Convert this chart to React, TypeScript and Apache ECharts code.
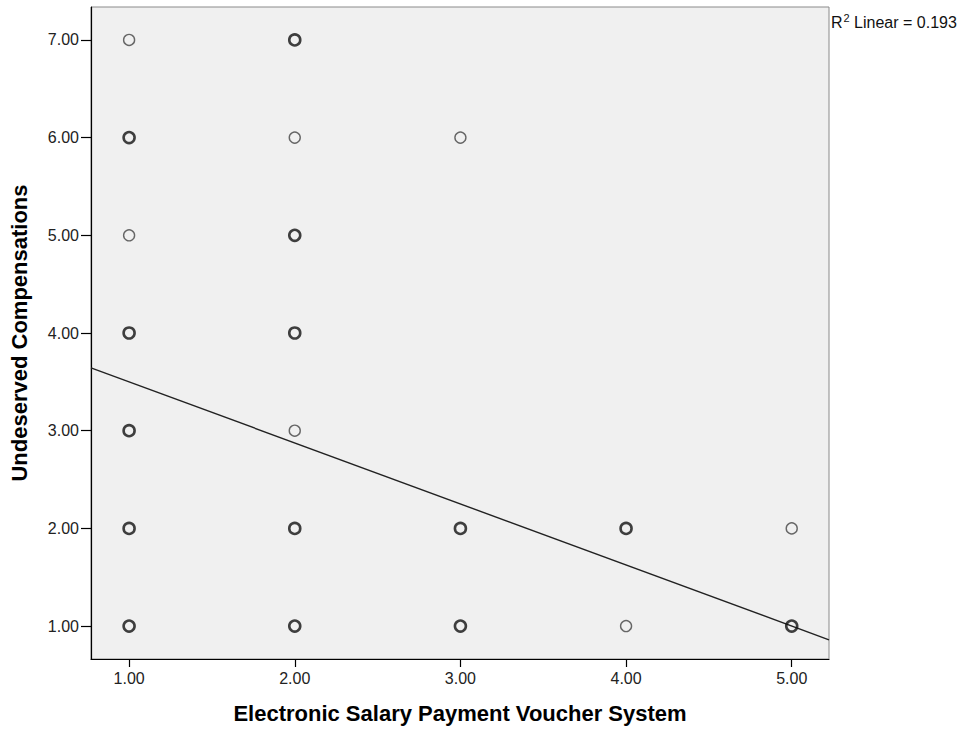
import React, { useEffect, useRef } from "react";
import * as echarts from "echarts";

// Single (non-overlapping) observations: [x, y]
const singlePoints: [number, number][] = [
  [1, 7], [1, 5],
  [2, 6], [2, 3],
  [3, 6],
  [4, 1],
  [5, 2],
];
// Overlapping observations (drawn heavier, as in SPSS)
const multiPoints: [number, number][] = [
  [1, 6], [1, 4], [1, 3], [1, 2], [1, 1],
  [2, 7], [2, 5], [2, 4], [2, 2], [2, 1],
  [3, 2], [3, 1],
  [4, 2],
  [5, 1],
];
const xTicks = [1, 2, 3, 4, 5];
const yTicks = [1, 2, 3, 4, 5, 6, 7];
const fitIntercept = 4.125;
const fitSlope = -0.625;
const xMin = 0.77;
const xMax = 5.225;
const yMin = 0.663;
const yMax = 7.337;
const r2Value = "0.193";
const xTitle = "Electronic Salary Payment Voucher System";
const yTitle = "Undeserved Compensations";

const FONT = "Arial, 'Liberation Sans', sans-serif";

export default function App() {
  const ref = useRef<HTMLDivElement>(null);
  useEffect(() => {
    if (!ref.current) return;
    const chart = echarts.init(ref.current, undefined, { renderer: "svg" });
    const fitLine = [xMin, xMax].map((x) => [x, fitIntercept + fitSlope * x]);
    chart.setOption({
      animation: false,
      backgroundColor: "#ffffff",
      grid: {
        left: 91,
        top: 7,
        right: 135,
        bottom: 69,
        show: true,
        backgroundColor: "#f0f0f0",
        borderColor: "#8a8a8a",
        borderWidth: 1,
      },
      xAxis: {
        type: "value",
        min: xMin,
        max: xMax,
        name: xTitle,
        nameLocation: "middle",
        nameGap: 43,
        nameTextStyle: { fontFamily: FONT, fontSize: 22, fontWeight: "bold", color: "#000" },
        axisLine: { show: true, onZero: false, lineStyle: { color: "#000", width: 1.2 } },
        axisTick: { show: true, customValues: xTicks, length: 8, lineStyle: { color: "#000", width: 1.2 } },
        axisLabel: {
          customValues: xTicks,
          formatter: (v: number) => v.toFixed(2),
          fontFamily: FONT,
          fontSize: 16,
          color: "#222",
          margin: 11,
        },
        splitLine: { show: false },
      },
      yAxis: {
        type: "value",
        min: yMin,
        max: yMax,
        name: yTitle,
        nameLocation: "middle",
        nameGap: 61,
        nameTextStyle: { fontFamily: FONT, fontSize: 22, fontWeight: "bold", color: "#000" },
        axisLine: { show: true, onZero: false, lineStyle: { color: "#000", width: 1.2 } },
        axisTick: { show: true, customValues: yTicks, length: 10, lineStyle: { color: "#000", width: 1.2 } },
        axisLabel: {
          customValues: yTicks,
          formatter: (v: number) => v.toFixed(2),
          fontFamily: FONT,
          fontSize: 16,
          color: "#222",
          margin: 12,
        },
        splitLine: { show: false },
      },
      graphic: [
        {
          type: "text",
          left: 831,
          top: 12,
          style: {
            text: "{a|R}{b|2}{a| Linear = " + r2Value + "}",
            fontFamily: FONT,
            fill: "#111",
            rich: {
              a: { fontFamily: FONT, fontSize: 16, lineHeight: 20, fill: "#111" },
              b: { fontFamily: FONT, fontSize: 11, lineHeight: 20, fill: "#111", verticalAlign: "top", padding: [0, 0, 0, 1] },
            },
          },
        },
      ],
      series: [
        {
          type: "line",
          data: fitLine,
          showSymbol: false,
          symbol: "none",
          lineStyle: { color: "#222", width: 1.4 },
          clip: true,
          silent: true,
          z: 1,
        },
        {
          type: "scatter",
          data: singlePoints,
          symbol: "circle",
          symbolSize: 11,
          itemStyle: { color: "transparent", borderColor: "#444", borderWidth: 1.4 },
          z: 2,
        },
        {
          type: "scatter",
          data: multiPoints,
          symbol: "circle",
          symbolSize: 11,
          itemStyle: { color: "transparent", borderColor: "#111", borderWidth: 2.6 },
          z: 3,
        },
      ],
    });
    return () => chart.dispose();
  }, []);
  return (
    <div
      ref={ref}
      style={{ position: "fixed", left: 0, top: 0, width: 964, height: 729 }}
    />
  );
}
